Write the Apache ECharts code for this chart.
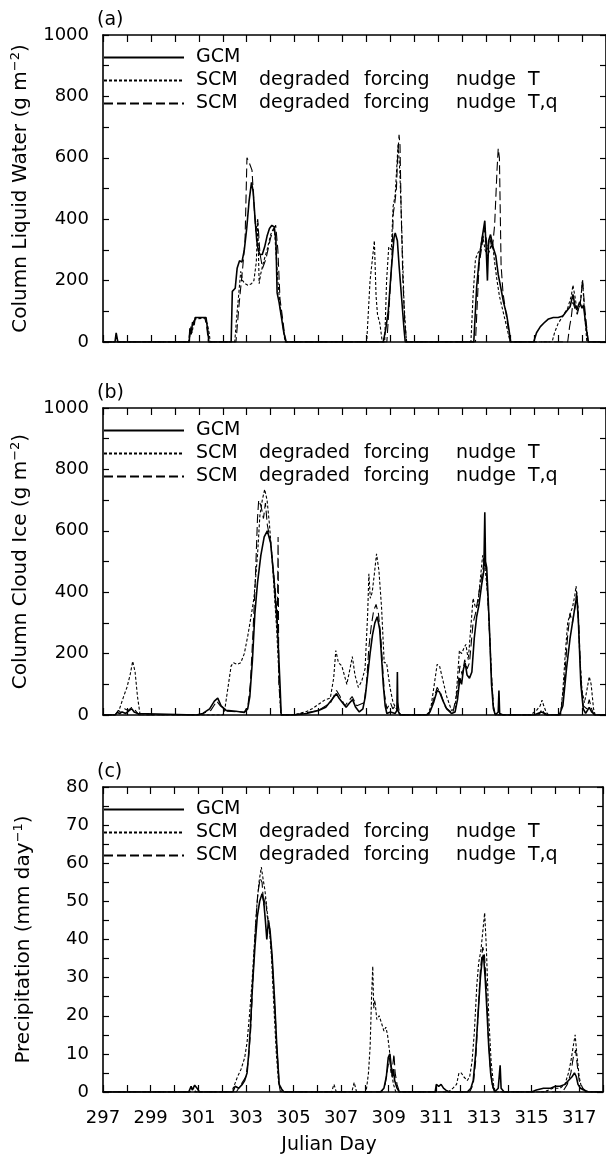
<!DOCTYPE html>
<html><head><meta charset="utf-8">
<script src="https://cdn.jsdelivr.net/npm/echarts@6/dist/echarts.min.js"></script>
<style>html,body{margin:0;padding:0;background:#fff}#c{width:606px;height:1162px}</style>
</head><body><div id="c"></div>
<script>
// ---------- data ----------
const seriesNames = ['GCM', 'SCM degraded forcing nudge T', 'SCM degraded forcing nudge T,q'];
const panelLabels = ['(a)', '(b)', '(c)'];
const dayMin = 297, dayMax = 318;

// (a) Column Liquid Water (g m-2): [julian day, value]
const lwGCM = [[297,0],[297.5,0],[297.55,30],[297.62,0],[300.6,0],[300.63,45],[300.68,25],[300.74,65],[300.8,55],[300.85,80],[301.3,80],[301.37,40],[301.42,0],[302.35,0],[302.4,165],[302.52,175],[302.6,240],[302.7,265],[302.8,260],[302.9,300],[303.0,370],[303.1,460],[303.2,520],[303.27,490],[303.35,400],[303.42,330],[303.48,300],[303.55,285],[303.65,285],[303.75,310],[303.85,345],[303.95,370],[304.05,380],[304.15,375],[304.22,330],[304.27,160],[304.35,130],[304.45,80],[304.55,30],[304.65,0],[308.7,0],[308.8,40],[308.91,100],[309.04,240],[309.15,340],[309.2,355],[309.29,330],[309.36,250],[309.46,150],[309.57,40],[309.62,0],[312.48,0],[312.6,180],[312.72,280],[312.85,350],[312.94,395],[313.0,300],[313.05,200],[313.1,330],[313.18,350],[313.28,310],[313.4,280],[313.5,220],[313.6,180],[313.72,130],[313.85,90],[313.95,40],[314.02,0],[314.98,0],[315.1,30],[315.26,50],[315.45,65],[315.6,75],[315.8,80],[316.0,80],[316.2,85],[316.35,100],[316.5,115],[316.62,155],[316.7,120],[316.78,105],[316.9,130],[317.0,110],[317.06,120],[317.15,60],[317.26,0],[318,0]];
const lwNudgeT = [[297,0],[300.58,0],[300.62,35],[300.67,50],[300.72,30],[300.78,60],[300.85,75],[301.25,78],[301.35,60],[301.43,30],[301.48,0],[302.5,0],[302.58,80],[302.66,150],[302.75,230],[302.83,200],[302.93,190],[303.05,185],[303.2,190],[303.3,200],[303.4,260],[303.46,390],[303.52,190],[303.58,220],[303.7,260],[303.85,300],[304.0,350],[304.15,375],[304.22,370],[304.3,200],[304.4,110],[304.5,60],[304.6,0],[308.01,0],[308.15,200],[308.33,330],[308.4,150],[308.46,90],[308.56,60],[308.66,0],[308.76,0],[308.84,200],[308.93,310],[309.04,300],[309.11,440],[309.2,480],[309.32,645],[309.39,560],[309.46,400],[309.57,120],[309.67,0],[312.36,0],[312.45,150],[312.55,270],[312.65,290],[312.75,300],[312.85,350],[312.95,300],[313.05,280],[313.15,300],[313.25,330],[313.35,260],[313.45,200],[313.55,150],[313.7,100],[313.85,50],[314.0,0],[315.75,0],[315.85,30],[316.0,60],[316.2,85],[316.4,110],[316.55,150],[316.62,185],[316.7,150],[316.8,100],[316.92,120],[317.02,200],[317.1,100],[317.2,0],[318,0]];
const lwNudgeTq = [[297,0],[300.6,0],[300.65,40],[300.72,55],[300.8,70],[300.9,80],[301.25,80],[301.33,50],[301.4,0],[302.55,0],[302.69,130],[302.83,240],[302.93,330],[303.01,600],[303.1,585],[303.22,560],[303.31,440],[303.38,360],[303.46,400],[303.55,290],[303.66,240],[303.8,270],[304.0,340],[304.14,370],[304.21,380],[304.3,300],[304.39,140],[304.51,70],[304.62,0],[308.85,0],[308.95,120],[309.05,250],[309.12,420],[309.18,450],[309.25,500],[309.3,600],[309.36,675],[309.4,640],[309.45,420],[309.52,200],[309.6,60],[309.68,0],[312.55,0],[312.7,250],[312.85,330],[312.95,370],[313.05,300],[313.15,340],[313.25,300],[313.35,380],[313.45,560],[313.5,630],[313.55,600],[313.62,250],[313.7,160],[313.85,80],[314.0,0],[316.4,0],[316.48,50],[316.55,80],[316.62,130],[316.7,110],[316.8,90],[316.95,140],[317.02,205],[317.1,120],[317.18,60],[317.26,0],[318,0]];

// (b) Column Cloud Ice (g m-2)
const ciGCM = [[297,0],[297.5,0],[297.6,8],[297.7,5],[297.8,10],[297.95,5],[298.1,15],[298.2,20],[298.3,10],[298.45,5],[298.5,0],[300.9,0],[301.17,5],[301.45,20],[301.65,45],[301.79,55],[301.93,30],[302.14,15],[302.55,12],[302.9,8],[303.04,20],[303.13,60],[303.24,180],[303.34,330],[303.45,430],[303.59,520],[303.73,580],[303.86,600],[304.0,560],[304.14,440],[304.28,290],[304.39,100],[304.44,0],[305.0,0],[305.5,5],[306.0,15],[306.3,25],[306.55,50],[306.75,70],[306.85,55],[307.0,40],[307.15,25],[307.3,40],[307.42,50],[307.55,25],[307.7,10],[307.85,20],[307.95,60],[308.05,130],[308.15,200],[308.25,260],[308.35,300],[308.45,320],[308.55,280],[308.62,200],[308.7,100],[308.78,30],[308.85,5],[309.0,10],[309.2,5],[309.27,15],[309.29,140],[309.31,15],[309.4,0],[310.5,0],[310.65,10],[310.8,40],[310.95,80],[311.05,75],[311.2,45],[311.35,20],[311.55,5],[311.7,10],[311.8,50],[311.9,120],[311.97,100],[312.05,150],[312.12,170],[312.2,130],[312.3,120],[312.4,140],[312.5,250],[312.6,320],[312.7,360],[312.8,420],[312.9,470],[312.94,660],[312.97,500],[313.02,480],[313.08,380],[313.15,250],[313.22,100],[313.3,20],[313.38,0],[313.5,10],[313.53,80],[313.56,5],[313.7,0],[315.0,0],[315.3,10],[315.35,15],[315.45,5],[315.55,0],[316.05,0],[316.2,30],[316.35,150],[316.5,250],[316.6,300],[316.7,350],[316.78,390],[316.85,300],[316.95,100],[317.05,20],[317.15,5],[317.3,25],[317.4,10],[317.55,0],[318,0]];
const ciNudgeT = [[297,0],[297.51,0],[297.69,20],[297.86,60],[298.0,90],[298.13,130],[298.24,175],[298.34,140],[298.44,60],[298.55,0],[302.0,0],[302.07,10],[302.2,80],[302.35,160],[302.45,170],[302.6,165],[302.75,170],[302.9,200],[303.05,260],[303.2,330],[303.3,380],[303.45,520],[303.55,650],[303.65,700],[303.75,735],[303.85,700],[303.95,620],[304.05,520],[304.15,400],[304.25,280],[304.35,120],[304.42,0],[304.9,0],[305.45,10],[305.73,20],[306.0,35],[306.28,50],[306.49,55],[306.63,120],[306.72,210],[306.83,170],[306.97,160],[307.18,100],[307.31,150],[307.41,190],[307.52,130],[307.66,90],[307.8,110],[307.94,150],[308.05,330],[308.1,460],[308.16,380],[308.24,400],[308.33,460],[308.42,525],[308.52,470],[308.63,350],[308.74,170],[308.84,170],[308.98,90],[309.11,40],[309.32,10],[309.46,0],[310.55,0],[310.7,30],[310.85,110],[310.95,165],[311.05,160],[311.2,110],[311.35,60],[311.55,15],[311.7,20],[311.8,120],[311.88,210],[311.97,200],[312.08,220],[312.15,230],[312.25,180],[312.35,280],[312.45,380],[312.55,350],[312.65,360],[312.75,440],[312.85,520],[312.95,480],[313.05,400],[313.15,250],[313.25,80],[313.32,10],[313.4,0],[314.85,0],[315.1,15],[315.25,30],[315.33,48],[315.4,30],[315.5,10],[315.6,0],[316.1,0],[316.2,80],[316.3,200],[316.4,300],[316.5,330],[316.6,350],[316.7,390],[316.75,420],[316.82,360],[316.9,200],[317.0,80],[317.1,40],[317.2,80],[317.3,125],[317.38,100],[317.48,20],[317.55,0],[318,0]];
const ciNudgeTq = [[297,0],[297.5,0],[297.65,15],[297.75,8],[297.9,20],[298.05,15],[298.2,25],[298.35,15],[298.5,0],[301.0,0],[301.5,15],[301.75,45],[301.9,30],[302.2,12],[302.9,10],[303.05,30],[303.15,100],[303.25,250],[303.35,420],[303.45,640],[303.5,700],[303.6,680],[303.7,640],[303.78,690],[303.86,620],[304.0,560],[304.1,480],[304.2,400],[304.28,300],[304.31,580],[304.34,100],[304.44,0],[305.0,0],[306.0,15],[306.5,40],[306.75,80],[306.9,60],[307.1,30],[307.4,60],[307.6,30],[307.9,40],[308.0,100],[308.1,220],[308.2,290],[308.3,340],[308.4,360],[308.5,330],[308.6,250],[308.68,150],[308.75,70],[308.85,20],[309.0,40],[309.1,20],[309.3,40],[309.4,0],[310.6,0],[310.8,50],[310.95,90],[311.1,70],[311.3,25],[311.6,5],[311.8,80],[311.9,160],[312.0,130],[312.1,180],[312.2,150],[312.3,170],[312.45,300],[312.55,330],[312.7,400],[312.85,470],[312.92,510],[313.0,470],[313.1,330],[313.2,150],[313.3,30],[313.38,0],[315.2,0],[315.33,20],[315.45,0],[316.1,0],[316.25,100],[316.4,260],[316.5,330],[316.6,300],[316.7,350],[316.78,400],[316.85,320],[316.95,120],[317.05,30],[317.2,20],[317.3,50],[317.4,20],[317.5,0],[318,0]];

// (c) Precipitation (mm day-1)
const prGCM = [[297,0],[300.6,0],[300.7,1.5],[300.75,0.5],[300.85,1.8],[300.95,1],[301.05,0],[302.45,0],[302.55,1.5],[302.7,1],[302.85,2],[302.95,3],[303.05,5],[303.12,10],[303.2,18],[303.28,28],[303.38,38],[303.48,46],[303.58,50],[303.68,52],[303.75,50],[303.82,45],[303.88,40],[303.95,45],[304.02,42],[304.1,36],[304.2,25],[304.3,12],[304.4,2],[304.5,0.8],[304.6,0],[308.65,0],[308.8,1],[308.9,4],[308.98,9],[309.05,10],[309.1,7],[309.15,4],[309.2,6],[309.25,3],[309.35,1],[309.45,0],[310.95,0],[311.0,2],[311.1,1.5],[311.2,2],[311.3,1],[311.4,0.5],[311.55,0],[312.3,0],[312.45,1],[312.55,3],[312.65,10],[312.75,20],[312.85,30],[312.93,35],[312.98,36],[313.05,30],[313.12,22],[313.2,12],[313.28,5],[313.35,2],[313.45,0],[313.6,1],[313.68,7],[313.72,1],[313.85,0],[315.0,0],[315.2,0.5],[315.5,1],[315.8,1],[316.0,1.5],[316.2,1.5],[316.4,2],[316.55,3],[316.7,4],[316.8,5],[316.88,4],[316.95,2],[317.05,1],[317.2,0.5],[317.4,0],[318,0]];
const prNudgeT = [[297,0],[300.65,0],[300.8,1],[300.9,0],[302.4,0],[302.5,1.5],[302.65,4],[302.8,6],[302.95,9],[303.05,13],[303.15,20],[303.25,28],[303.35,38],[303.45,48],[303.55,55],[303.65,59],[303.72,56],[303.8,53],[303.9,47],[304.0,42],[304.08,35],[304.18,22],[304.28,10],[304.38,2],[304.5,0],[306.6,0],[306.7,2],[306.8,0],[307.45,0],[307.55,2.5],[307.65,0],[308.05,0],[308.15,5],[308.22,12],[308.28,25],[308.33,33],[308.37,22],[308.42,24],[308.5,19],[308.6,20],[308.7,18],[308.8,16],[308.88,17],[308.95,15],[309.03,11],[309.1,6],[309.2,2],[309.3,0],[311.5,0],[311.7,1],[311.85,2],[311.95,5],[312.05,5],[312.15,4],[312.3,3],[312.4,4],[312.5,8],[312.6,16],[312.7,28],[312.78,34],[312.87,37],[312.95,42],[313.03,47],[313.1,38],[313.2,20],[313.3,8],[313.4,2],[313.48,0],[315.5,0],[315.9,1],[316.2,1],[316.4,2],[316.55,5],[316.65,8],[316.75,12],[316.83,15],[316.9,10],[317.0,4],[317.1,1],[317.25,0],[318,0]];
const prNudgeTq = [[297,0],[302.6,0],[302.8,2],[303.0,4],[303.1,8],[303.2,16],[303.3,30],[303.4,43],[303.5,52],[303.6,56],[303.68,55],[303.75,49],[303.82,51],[303.9,46],[304.0,43],[304.1,35],[304.2,24],[304.3,12],[304.4,2],[304.45,0],[308.7,0],[308.85,2],[308.95,6],[309.03,9],[309.1,5],[309.17,7],[309.22,10],[309.27,5],[309.35,2],[309.45,0],[312.4,0],[312.55,2],[312.65,8],[312.75,20],[312.85,32],[312.95,38],[313.02,36],[313.1,28],[313.18,15],[313.28,5],[313.38,1],[313.5,0],[316.3,0],[316.5,2],[316.65,5],[316.75,9],[316.85,11],[316.92,7],[317.0,3],[317.15,1],[317.3,0],[318,0]];

// ---------- chart ----------
const FONT = 'DejaVu Sans';
const panels = [
  {top: 35, height: 307, max: 1000, interval: 200, name: 'Column Liquid Water (g m{sup|−2})', data: [lwGCM, lwNudgeT, lwNudgeTq]},
  {top: 408, height: 307, max: 1000, interval: 200, name: 'Column Cloud Ice (g m{sup|−2})', data: [ciGCM, ciNudgeT, ciNudgeTq]},
  {top: 787, height: 305, max: 80, interval: 10, name: 'Precipitation (mm day{sup|−1})', data: [prGCM, prNudgeT, prNudgeTq]}
];
const lineStyles = [
  {color: '#000', width: 1.6, type: 'solid'},
  {color: '#000', width: 1.1, type: [3, 2]},
  {color: '#000', width: 1.1, type: [9, 4]}
];
const axisLine = {show: true, onZero: false, lineStyle: {color: '#000', width: 1.6}};
const tickStyle = {color: '#000', width: 1.2};

const grid = [], xAxis = [], yAxis = [], series = [], legend = [], graphic = [];
panels.forEach((p, i) => {
  grid.push({left: 103, top: p.top, width: 506, height: p.height});
  const last = i === panels.length - 1;
  xAxis.push({
    type: 'value', gridIndex: i, position: 'bottom', min: dayMin, max: dayMax, interval: 1,
    axisLine, splitLine: {show: false},
    axisTick: {inside: true, length: 7, lineStyle: tickStyle},
    axisLabel: {show: last, margin: 17, fontSize: 18, fontFamily: FONT, color: '#000',
      formatter: v => ((v - dayMin) % 2 === 0 ? String(v) : '')},
    name: last ? 'Julian Day' : '', nameLocation: 'middle', nameGap: 44,
    nameTextStyle: {fontSize: 19, fontFamily: FONT, color: '#000', padding: [0, 48, 0, 0]}
  });
  xAxis.push({
    type: 'value', gridIndex: i, position: 'top', min: dayMin, max: dayMax, interval: 1,
    axisLine, splitLine: {show: false},
    axisTick: {inside: true, length: 7, lineStyle: tickStyle}, axisLabel: {show: false}
  });
  yAxis.push({
    type: 'value', gridIndex: i, position: 'left', min: 0, max: p.max, interval: p.interval,
    axisLine, splitLine: {show: false},
    axisTick: {inside: true, length: 6, lineStyle: tickStyle},
    minorTick: {show: true, splitNumber: 2, length: 6, lineStyle: tickStyle},
    axisLabel: {margin: 14, fontSize: 18, fontFamily: FONT, color: '#000', formatter: v => String(v)},
    name: p.name, nameLocation: 'middle', nameGap: 68,
    nameTextStyle: {fontSize: 20, fontFamily: FONT, color: '#000', lineHeight: 23,
      rich: {sup: {fontSize: 13, fontFamily: FONT, color: '#000', verticalAlign: 'top', lineHeight: 23}}}
  });
  yAxis.push({
    type: 'value', gridIndex: i, position: 'right', min: 0, max: p.max, interval: p.interval,
    axisLine, splitLine: {show: false},
    axisTick: {inside: true, length: 6, lineStyle: tickStyle},
    minorTick: {show: true, splitNumber: 2, length: 6, lineStyle: tickStyle},
    axisLabel: {show: false}
  });
  p.data.forEach((d, k) => {
    series.push({
      type: 'line', name: seriesNames[k], xAxisIndex: 2 * i, yAxisIndex: 2 * i,
      data: d, symbol: 'none', showSymbol: false, lineStyle: lineStyles[k],
      itemStyle: {color: '#000'}, z: 3 - k, animation: false
    });
  });
  const txt = {fontSize: 19, fontFamily: FONT, color: '#000', lineHeight: 23};
  legend.push({
    orient: 'vertical', left: 103, top: p.top + 11, padding: 0, itemGap: 0,
    itemWidth: 80, itemHeight: 14, selectedMode: false,
    itemStyle: {opacity: 0, borderWidth: 0},
    data: seriesNames,
    textStyle: Object.assign({}, txt, {rich: {
      p: Object.assign({}, txt, {width: 7}),
      a: Object.assign({}, txt, {width: 63}),
      b: Object.assign({}, txt, {width: 105}),
      c: Object.assign({}, txt, {width: 92}),
      w: Object.assign({}, txt)
    }}),
    formatter: name => {
      if (name === 'GCM') return '{p| }{w|GCM}';
      const parts = name.split(' ');
      return '{p| }{a|' + parts[0] + '}{b|' + parts[1] + '}{c|' + parts[2] + '}{w|' + parts[3] + '  ' + parts[4] + '}';
    }
  });
  graphic.push({type: 'text', left: 97, top: p.top - 24,
    style: {text: panelLabels[i], fontSize: 19, fontFamily: FONT, fill: '#000'}});
});

const chart = echarts.init(document.getElementById('c'), null, {renderer: 'canvas'});
chart.setOption({backgroundColor: '#fff', animation: false, grid, xAxis, yAxis, series, legend, graphic});
</script>
</body></html>
